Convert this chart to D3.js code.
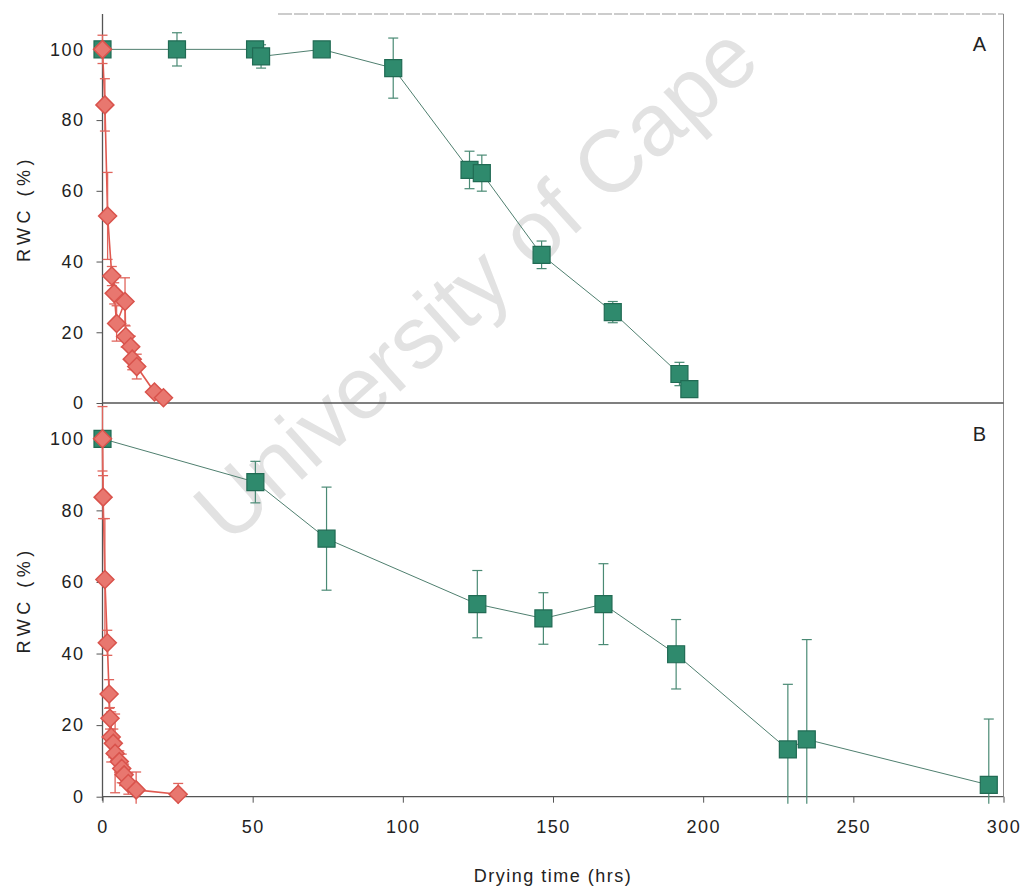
<!DOCTYPE html>
<html>
<head>
<meta charset="utf-8">
<script src="https://cdn.jsdelivr.net/npm/d3@7/dist/d3.min.js"></script>
<style>
  html, body { margin: 0; padding: 0; background: #fff; }
  svg { display: block; font-family: "Liberation Sans", Arial, sans-serif; }
</style>
</head>
<body>
<svg id="chart" width="1022" height="889"></svg>
<script>
// ---------- DATA ----------
// Panel A – green squares (time hrs, RWC %, error)
const aGreenX   = [0, 24.8, 50.8, 52.8, 73, 96.8, 122.2, 126.3, 146.2, 169.9, 192.1, 195.4];
const aGreenY   = [100, 100, 100, 98, 100, 94.7, 65.9, 65.0, 41.9, 25.7, 8.2, 3.9];
const aGreenErr = [0, 4.7, 0, 3.3, 0, 8.5, 5.3, 5.1, 3.9, 3.0, 3.3, 0.5];
// Panel A – red diamonds
const aRedX   = [0, 0.8, 1.7, 3.1, 3.9, 4.7, 7.5, 7.7, 9.4, 9.9, 11.4, 17.3, 20.3];
const aRedY   = [100, 84.3, 52.9, 35.9, 31.0, 22.5, 28.7, 18.8, 15.9, 12.4, 10.3, 3.1, 1.5];
const aRedErr = [4, 7.4, 12.3, 2.7, 3, 5, 6.7, 3, 3, 3, 3.5, 1, 0.5];
// Panel B – green squares
const bGreenX   = [0, 50.9, 74.6, 124.8, 146.8, 166.8, 191.0, 228.2, 234.5, 295.1];
const bGreenY   = [100, 87.9, 72.1, 53.8, 49.8, 53.8, 39.8, 13.2, 16.0, 3.3];
const bGreenErr = [0, 5.8, 14.4, 9.4, 7.2, 11.3, 9.7, 18.2, 27.9, 18.4];
// Panel B – red diamonds
const bRedX   = [0, 0.2, 0.8, 1.6, 2.2, 2.5, 2.9, 3.6, 4.2, 5.6, 6.4, 7.2, 8.6, 11.2, 25.2];
const bRedY   = [100, 83.7, 60.7, 43.0, 28.7, 21.9, 16.7, 14.9, 12.1, 9.8, 7.9, 6.1, 3.7, 1.9, 0.7];
const bRedErr = [9, 6, 17, 3.5, 4, 3, 7, 4, 11, 3, 4, 3, 3, 5, 3];

const xTicks = [0, 50, 100, 150, 200, 250, 300];
const yTicks = [0, 20, 40, 60, 80, 100];
const panelLabels = ["A", "B"];
const yTitle = "RWC (%)";
const xTitle = "Drying time (hrs)";
const watermark = "University of Cape";

// ---------- LAYOUT ----------
const svg = d3.select("#chart");
const left = 102.5, right = 1003.5;
const aTop = 14, aBottom = 403;
const bTop = 403, bBottom = 796.7;

const x  = d3.scaleLinear().domain([0, 300]).range([left, right]);
const yA = d3.scaleLinear().domain([0, 110]).range([aBottom, aTop]);
const yB = d3.scaleLinear().domain([0, 110]).range([bBottom, bTop]);

const axisCol = "#555";
const tickFont = 18;

// watermark (behind)
svg.append("text")
  .attr("transform", "translate(228.6,546) rotate(-42)")
  .attr("font-size", 88)
  .attr("fill", "#e2e2e2")
  .text(watermark);

// frames
svg.append("line").attr("x1", left).attr("x2", left).attr("y1", aTop).attr("y2", bBottom + 4)
  .attr("stroke", axisCol).attr("stroke-width", 1.3);
svg.append("line").attr("x1", 278).attr("x2", right).attr("y1", aTop).attr("y2", aTop)
  .attr("stroke", "#999").attr("stroke-width", 1).attr("stroke-dasharray", "14,2");
svg.append("line").attr("x1", right).attr("x2", right).attr("y1", aTop).attr("y2", bBottom)
  .attr("stroke", "#888").attr("stroke-width", 1);
svg.append("line").attr("x1", left).attr("x2", right).attr("y1", aBottom).attr("y2", aBottom)
  .attr("stroke", axisCol).attr("stroke-width", 1.3);
svg.append("line").attr("x1", left).attr("x2", right).attr("y1", bBottom).attr("y2", bBottom)
  .attr("stroke", axisCol).attr("stroke-width", 1.3);

// y axes
function yAxis(scale) {
  const g = svg.append("g").attr("transform", `translate(${left},0)`)
    .call(d3.axisLeft(scale).tickValues(yTicks).tickSize(6).tickPadding(12));
  g.select(".domain").remove();
  g.selectAll(".tick line").attr("stroke", axisCol);
  g.selectAll(".tick text").attr("font-size", tickFont).attr("fill", "#222")
    .attr("letter-spacing", "1.5px").attr("font-family", "Liberation Sans, Arial, sans-serif");
}
yAxis(yA);
yAxis(yB);

// x axis (bottom of panel B)
{
  const g = svg.append("g").attr("transform", `translate(0,${bBottom})`)
    .call(d3.axisBottom(x).tickValues(xTicks).tickSize(6).tickPadding(18));
  g.select(".domain").remove();
  g.selectAll(".tick line").attr("stroke", axisCol);
  g.selectAll(".tick text").attr("font-size", tickFont).attr("fill", "#222")
    .attr("letter-spacing", "1.5px").attr("font-family", "Liberation Sans, Arial, sans-serif");
}

// titles
svg.append("text").attr("transform", `translate(30,${(aTop + aBottom) / 2}) rotate(-90)`)
  .attr("text-anchor", "middle").attr("font-size", 18).attr("letter-spacing", "4.5px")
  .attr("fill", "#222").text(yTitle);
svg.append("text").attr("transform", `translate(30,${(bTop + bBottom) / 2}) rotate(-90)`)
  .attr("text-anchor", "middle").attr("font-size", 18).attr("letter-spacing", "4.5px")
  .attr("fill", "#222").text(yTitle);
svg.append("text").attr("x", 553).attr("y", 882).attr("text-anchor", "middle")
  .attr("font-size", 18).attr("letter-spacing", "1.5px").attr("fill", "#222").text(xTitle);

svg.append("text").attr("x", x(292)).attr("y", yA(100) + 2).attr("text-anchor", "middle")
  .attr("font-size", 20).attr("fill", "#222").text(panelLabels[0]);
svg.append("text").attr("x", x(292)).attr("y", yB(100) + 2).attr("text-anchor", "middle")
  .attr("font-size", 20).attr("fill", "#222").text(panelLabels[1]);

// series drawing
function drawSeries(xs, ys, es, yScale, opt) {
  const pts = xs.map((d, i) => ({ x: d, y: ys[i], e: es[i] }));
  const g = svg.append("g");
  g.append("path").datum(pts)
    .attr("d", d3.line().x(d => x(d.x)).y(d => yScale(d.y)))
    .attr("fill", "none").attr("stroke", opt.lineCol).attr("stroke-width", opt.lineW);
  const eb = g.selectAll("g.eb").data(pts.filter(d => d.e > 0)).join("g");
  eb.append("line")
    .attr("x1", d => x(d.x)).attr("x2", d => x(d.x))
    .attr("y1", d => yScale(d.y + d.e)).attr("y2", d => yScale(Math.max(d.y - d.e, -2)))
    .attr("stroke", opt.errCol).attr("stroke-width", opt.errW);
  eb.append("line")
    .attr("x1", d => x(d.x) - 5).attr("x2", d => x(d.x) + 5)
    .attr("y1", d => yScale(d.y + d.e)).attr("y2", d => yScale(d.y + d.e))
    .attr("stroke", opt.errCol).attr("stroke-width", opt.errW);
  eb.filter(d => d.y - d.e >= -2).append("line")
    .attr("x1", d => x(d.x) - 5).attr("x2", d => x(d.x) + 5)
    .attr("y1", d => yScale(d.y - d.e)).attr("y2", d => yScale(d.y - d.e))
    .attr("stroke", opt.errCol).attr("stroke-width", opt.errW);
  g.selectAll("path.m").data(pts).join("path")
    .attr("transform", d => `translate(${x(d.x)},${yScale(d.y)})`)
    .attr("d", opt.symbol)
    .attr("fill", opt.fill).attr("stroke", opt.stroke).attr("stroke-width", opt.strokeW);
}

const squareSym = "M-8.5,-8.5H8.5V8.5H-8.5Z";
const diamondSym = "M0,-9L9,0L0,9L-9,0Z";

const greenOpt = { lineCol: "#4f7f6f", lineW: 1, errCol: "#4a8a74", errW: 1.2,
  symbol: squareSym, fill: "#2f8a6d", stroke: "#216b54", strokeW: 1.2 };
const redOpt = { lineCol: "#e0584f", lineW: 1.6, errCol: "#e0645c", errW: 1.3,
  symbol: diamondSym, fill: "#e8776f", stroke: "#d9534c", strokeW: 1.5 };

drawSeries(aGreenX, aGreenY, aGreenErr, yA, greenOpt);
drawSeries(aRedX, aRedY, aRedErr, yA, redOpt);
drawSeries(bGreenX, bGreenY, bGreenErr, yB, greenOpt);
drawSeries(bRedX, bRedY, bRedErr, yB, redOpt);
</script>
</body>
</html>
